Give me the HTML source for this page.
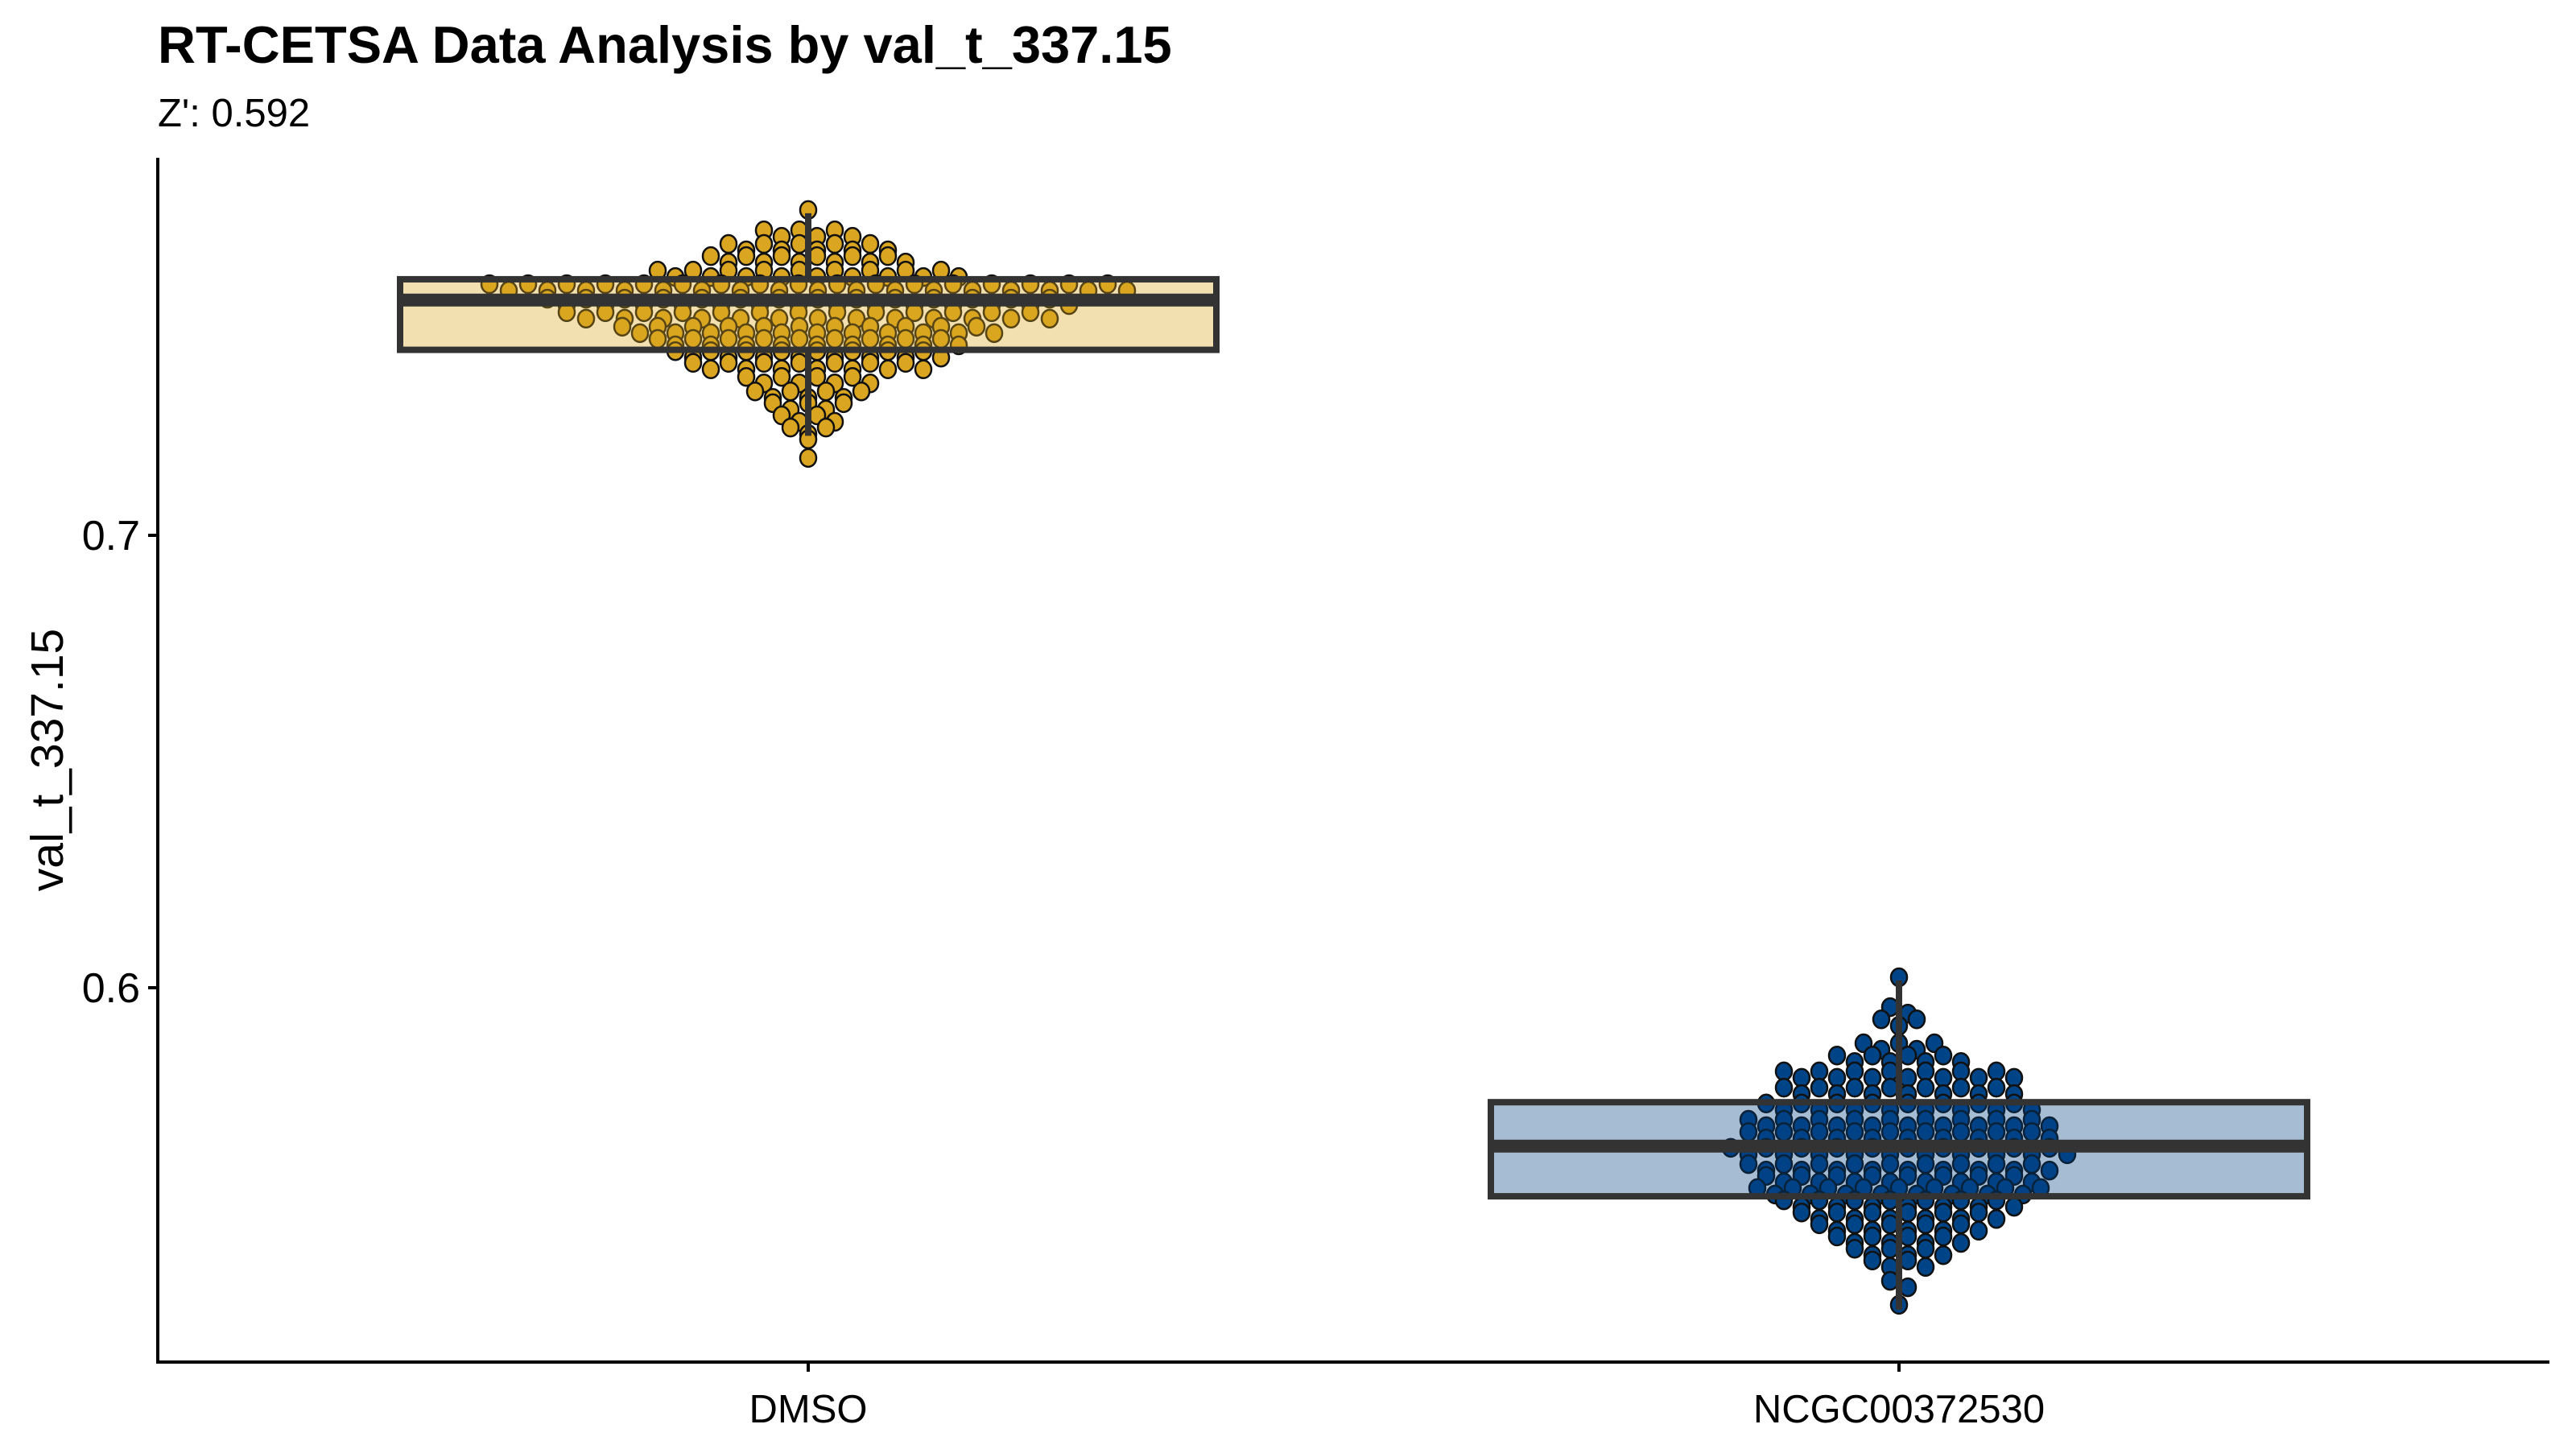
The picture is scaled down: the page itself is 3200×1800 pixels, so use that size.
<!DOCTYPE html>
<html><head><meta charset="utf-8"><style>
html,body{margin:0;padding:0;background:#fff;}
svg{display:block;font-family:"Liberation Sans",Arial,sans-serif;}
</style></head><body>
<svg id="chart" width="3200" height="1800" viewBox="0 0 3200 1800">
<text x="196" y="78" font-size="65" font-weight="bold" fill="#000">RT-CETSA Data Analysis by val_t_337.15</text>
<text x="196" y="157" font-size="49" fill="#000">Z': 0.592</text>
<text transform="translate(78,944) rotate(-90)" text-anchor="middle" font-size="57" fill="#000">val_t_337.15</text>
<g id="marks"></g>
<g id="axes"></g>
</svg>
<script>
const categories = ["DMSO", "NCGC00372530"];
const yTicks = [0.6, 0.7];
const yTickLabels = ["0.6", "0.7"];
// dot bins (value, count)
const dmsoBinValues = [0.7712,0.7667,0.7637,0.7610,0.7578,0.7548,0.7516,0.7486,0.7454,0.7427,0.7400,0.7374,0.7343,0.7311,0.7285,0.7258,0.7231,0.7205,0.7164];
const dmsoBinCounts = [1,6,10,12,18,34,28,26,22,18,16,14,8,7,5,4,3,1,1];
const ncgcBinValues = [0.6016,0.5950,0.5923,0.5870,0.5843,0.5808,0.5772,0.5737,0.5701,0.5674,0.5639,0.5603,0.5577,0.5550,0.5523,0.5496,0.5470,0.5443,0.5416,0.5390,0.5345,0.5292];
const ncgcBinCounts = [1,2,3,5,8,14,14,16,18,18,20,18,16,17,14,12,10,8,6,4,2,1];
// box stats: lower whisker, q1, median, q3, upper whisker
const dmsoBox = [0.7220,0.7410,0.7520,0.7566,0.7712];
const ncgcBox = [0.5288,0.5539,0.5650,0.5747,0.6016];

const NS = "http://www.w3.org/2000/svg";
const plot = {left:196, right:3167, top:196, bottom:1692};
function yScale(v){ return 665 + (0.7 - v) * 5620; }
function xScale(i){ return [1004, 2359][i]; }
function mk(tag, attrs, parent){ const e=document.createElementNS(NS,tag); for(const k in attrs) e.setAttribute(k,attrs[k]); parent.appendChild(e); return e; }

const marks = document.getElementById('marks');
const axes = document.getElementById('axes');
const groups = [
  {vals:dmsoBinValues, counts:dmsoBinCounts, box:dmsoBox, dot:"#DAA520", fill:"#DAA520", name:"dmso"},
  {vals:ncgcBinValues, counts:ncgcBinCounts, box:ncgcBox, dot:"#004488", fill:"#004080", name:"ncgc"}
];
groups.forEach((g, gi) => {
  const cx = xScale(gi);
  const gDots = mk('g', {}, marks);
  
  
  g.vals.forEach((v, ri) => {
    const n = g.counts[ri];
    const sp = n > 25 ? 24 : 22;
    for (let k = 0; k < n; k++) {
      const off = (k - (n - 1) / 2) * sp;
      const c = mk('ellipse', {cx: cx + off, cy: yScale(v) + ((k % 2) ? 4 : -4), rx: 10, ry: 11, fill: g.dot, stroke: "#111", 'stroke-width': 2.5}, gDots);
      
      
    }
  });
  const b = g.box;
  const gBox = mk('g', {}, marks);
  
  
  const w = 1014, x0 = cx - w / 2;
  const wl1 = mk('line', {x1: cx, x2: cx, y1: yScale(b[4]), y2: yScale(b[3]), stroke: "#333", 'stroke-width': 8}, gBox);
  
  
  const wl2 = mk('line', {x1: cx, x2: cx, y1: yScale(b[1]), y2: yScale(b[0]), stroke: "#333", 'stroke-width': 8}, gBox);
  
  
  const r = mk('rect', {x: x0, y: yScale(b[3]), width: w, height: yScale(b[1]) - yScale(b[3]), fill: g.fill, 'fill-opacity': 0.35, stroke: "#333", 'stroke-width': 8}, gBox);
  
  
  const m = mk('line', {x1: x0, x2: x0 + w, y1: yScale(b[2]), y2: yScale(b[2]), stroke: "#333", 'stroke-width': 16}, gBox);
  
  
});
// axes
const ya = mk('line', {x1: plot.left, x2: plot.left, y1: plot.top, y2: plot.bottom + 2, stroke: "#000", 'stroke-width': 4}, axes);


const xa = mk('line', {x1: plot.left - 2, x2: plot.right, y1: plot.bottom, y2: plot.bottom, stroke: "#000", 'stroke-width': 4}, axes);


yTicks.forEach((t, i) => {
  const y = yScale(t);
  const tk = mk('line', {x1: plot.left - 12, x2: plot.left, y1: y, y2: y, stroke: "#000", 'stroke-width': 4}, axes);
  
  
  const tx = mk('text', {x: plot.left - 22, y: y + 18, 'text-anchor': 'end', 'font-size': 52, fill: "#000"}, axes);
  tx.textContent = yTickLabels[i];
  
  
});
categories.forEach((c, i) => {
  const x = xScale(i);
  const tk = mk('line', {x1: x, x2: x, y1: plot.bottom, y2: plot.bottom + 12, stroke: "#000", 'stroke-width': 4}, axes);
  
  
  const tx = mk('text', {x: x, y: 1767, 'text-anchor': 'middle', 'font-size': 49, fill: "#000"}, axes);
  tx.textContent = c;
  
  
});
</script>
</body></html>
